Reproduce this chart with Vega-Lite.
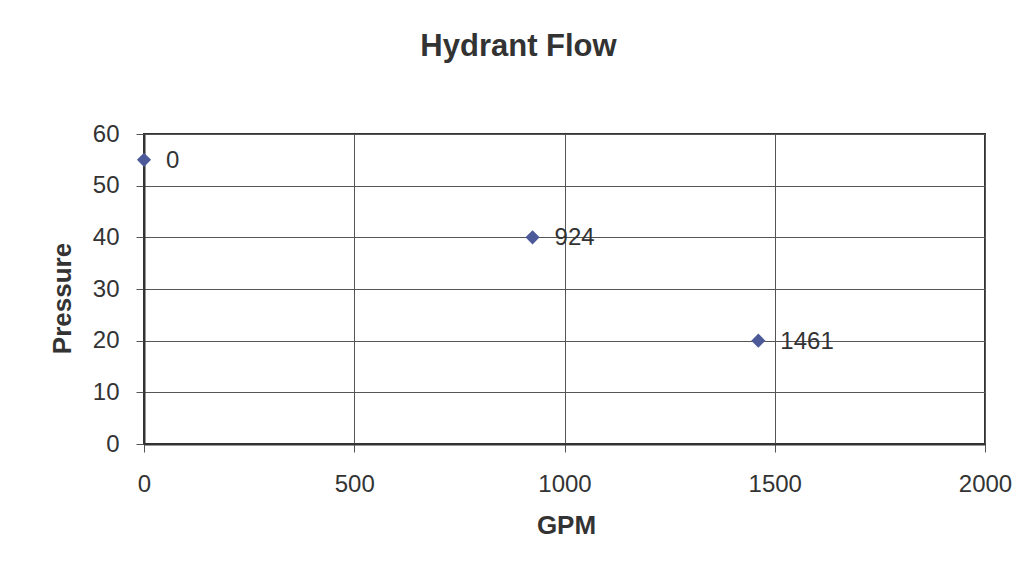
{
  "$schema": "https://vega.github.io/schema/vega-lite/v6.json",
  "width": 841,
  "height": 310,
  "autosize": {"type": "none"},
  "padding": {"left": 144, "top": 134, "right": 44, "bottom": 131},
  "background": "white",
  "title": {
    "text": "Hydrant Flow",
    "font": "Liberation Sans",
    "fontSize": 31,
    "fontWeight": "bold",
    "color": "#333333",
    "anchor": "middle",
    "dx": -46,
    "offset": 35,
    "baseline": "alphabetic"
  },
  "data": {
    "values": [
      {"gpm": 0, "pressure": 55},
      {"gpm": 924, "pressure": 40},
      {"gpm": 1461, "pressure": 20}
    ]
  },
  "encoding": {
    "x": {
      "field": "gpm",
      "type": "quantitative",
      "scale": {"domain": [0, 2000], "nice": false, "zero": true},
      "axis": {
        "title": "GPM",
        "format": "d",
        "values": [0, 500, 1000, 1500, 2000],
        "labelPadding": 20,
        "titleX": 422,
        "titleY": 81,
        "titleBaseline": "middle",
        "titleAlign": "center"
      }
    },
    "y": {
      "field": "pressure",
      "type": "quantitative",
      "scale": {"domain": [0, 60], "nice": false},
      "axis": {
        "title": "Pressure",
        "values": [0, 10, 20, 30, 40, 50, 60],
        "labelPadding": 17,
        "titleX": -82,
        "titleY": 164,
        "titleAngle": -90,
        "titleBaseline": "middle",
        "titleAlign": "center"
      }
    }
  },
  "layer": [
    {
      "mark": {"type": "point", "shape": "diamond", "filled": true, "size": 200, "color": "#4d5a9a", "opacity": 1}
    },
    {
      "mark": {"type": "text", "align": "left", "baseline": "middle", "dx": 22, "dy": 1, "fontSize": 24, "font": "Liberation Sans", "color": "#333333"},
      "encoding": {"text": {"field": "gpm", "type": "quantitative", "format": "d"}}
    }
  ],
  "config": {
    "view": {"stroke": "#333333", "strokeWidth": 2},
    "axis": {
      "grid": true,
      "gridColor": "#555555",
      "gridWidth": 1,
      "gridOpacity": 1,
      "domain": true,
      "domainColor": "#333333",
      "domainWidth": 2,
      "ticks": true,
      "tickColor": "#555555",
      "tickSize": 8,
      "tickWidth": 1,
      "labelFont": "Liberation Sans",
      "labelFontSize": 24,
      "labelColor": "#333333",
      "labelFlush": false,
      "labelOverlap": false,
      "titleFont": "Liberation Sans",
      "titleFontSize": 26,
      "titleFontWeight": "bold",
      "titleColor": "#333333"
    }
  }
}
